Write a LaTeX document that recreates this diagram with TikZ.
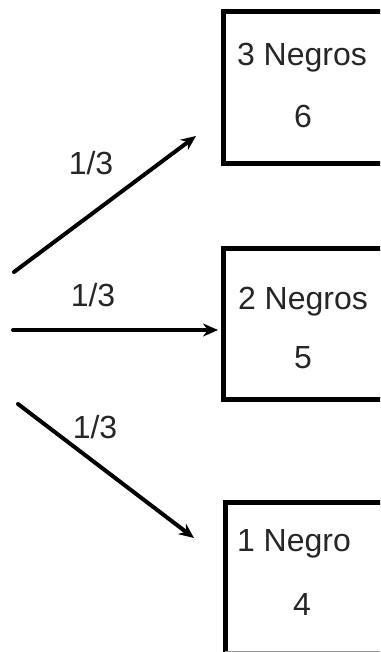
\documentclass[tikz,border=0pt]{standalone}
\usepackage{fontspec}
\setmainfont{Liberation Sans}
\usetikzlibrary{arrows.meta}
\begin{document}
\begin{tikzpicture}[x=1pt,y=-1pt,
  boxline/.style={line width=5pt, draw=black},
  txt/.style={text=black!85, font=\fontsize{32}{37}\selectfont, inner sep=0pt, anchor=base},
  arr/.style={line width=4pt, -{Stealth[length=15pt,width=13pt]}, line cap=round}]
\useasboundingbox (0,0) rectangle (380,652);
\clip (0,0) rectangle (380,652);
% boxes
\draw[boxline] (430,163.5) -- (223,163.5) -- (223,12) -- (430,12);
\draw[boxline] (430,399.5) -- (223.5,399.5) -- (223.5,248) -- (430,248);
\draw[boxline] (225,680) -- (225,502.5) -- (430,502.5);
\draw[black!40, line width=1pt] (225,651.5) -- (430,651.5);
% box texts
\node[txt] (t1) at (302,66) {3 Negros};
\node[txt] (v1) at (303,128) {6};
\node[txt] (t2) at (303,309) {2 Negros};
\node[txt] (v2) at (303,368) {5};
\node[txt] (t3) at (294,551) {1 Negro};
\node[txt] (v3) at (302,615) {4};
% arrows
\coordinate (s1) at (14,272);
\coordinate (e1) at (196,136);
\coordinate (s2) at (13,330);
\coordinate (e2) at (218,330);
\coordinate (s3) at (18,404);
\coordinate (e3) at (194,538);
\draw[arr] (s1) -- (e1);
\draw[arr] (s2) -- (e2);
\draw[arr] (s3) -- (e3);
% labels
\node[txt] (l1) at (91,175) {1/3};
\node[txt] (l2) at (93,306) {1/3};
\node[txt] (l3) at (95,438) {1/3};
\end{tikzpicture}
\end{document}
